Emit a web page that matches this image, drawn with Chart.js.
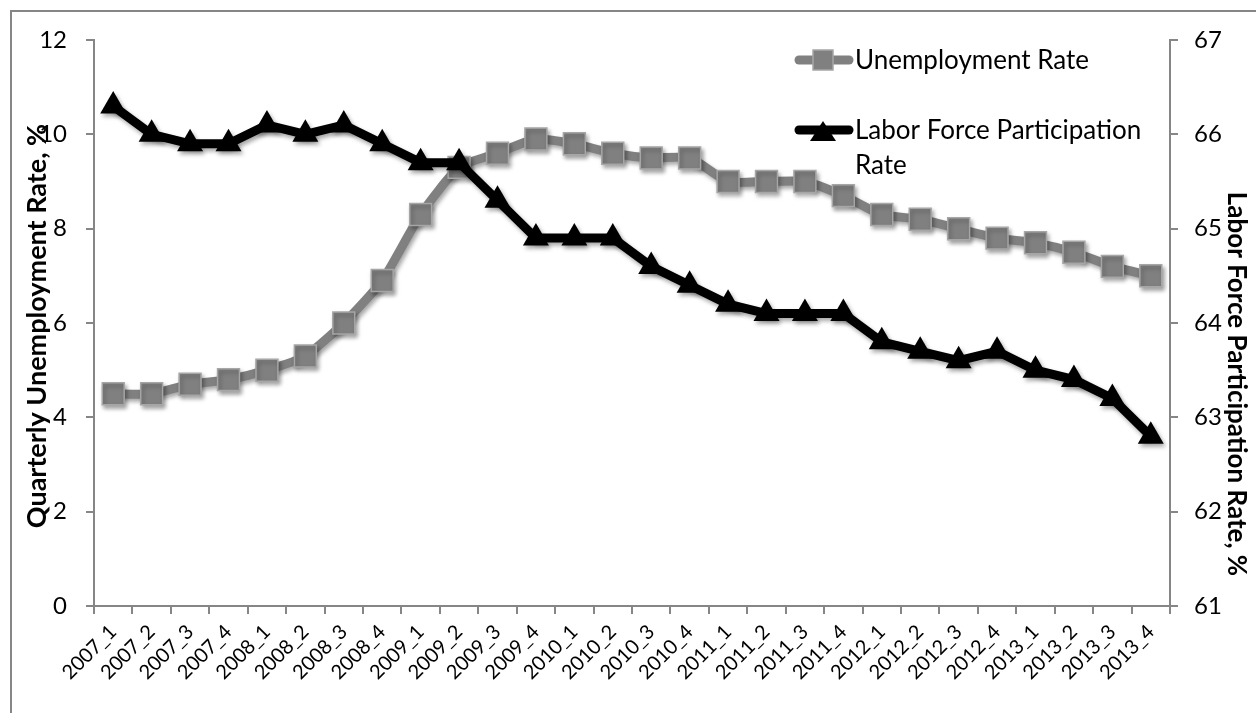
<!DOCTYPE html>
<html lang="en">
<head>
<meta charset="UTF-8">
<title>Unemployment and Labor Force Participation</title>
<script src="https://cdn.jsdelivr.net/npm/chart.js@4.4.0/dist/chart.umd.min.js"></script>
<style>
  body { margin: 0; background: #fff; }
  canvas { display: block; }
</style>
</head>
<body>
<canvas id="lineChart" width="1256" height="713"></canvas>
<script>
// data
var quarters = ['2007_1','2007_2','2007_3','2007_4','2008_1','2008_2','2008_3','2008_4',
  '2009_1','2009_2','2009_3','2009_4','2010_1','2010_2','2010_3','2010_4',
  '2011_1','2011_2','2011_3','2011_4','2012_1','2012_2','2012_3','2012_4',
  '2013_1','2013_2','2013_3','2013_4'];
var unemploymentRate = [4.5, 4.5, 4.7, 4.8, 5.0, 5.3, 6.0, 6.9,
  8.3, 9.3, 9.6, 9.9, 9.8, 9.6, 9.5, 9.5,
  9.0, 9.0, 9.0, 8.7, 8.3, 8.2, 8.0, 7.8,
  7.7, 7.5, 7.2, 7.0];
var participationRate = [66.3, 66.0, 65.9, 65.9, 66.1, 66.0, 66.1, 65.9,
  65.7, 65.7, 65.3, 64.9, 64.9, 64.9, 64.6, 64.4,
  64.2, 64.1, 64.1, 64.1, 63.8, 63.7, 63.6, 63.7,
  63.5, 63.4, 63.2, 62.8];
var leftTicks = [0, 2, 4, 6, 8, 10, 12];
var rightTicks = [61, 62, 63, 64, 65, 66, 67];

var FONT = 'Lato, "Open Sans", sans-serif';
var GRAY = '#808080';
var AXIS = '#868686';

// frame, titles and legend drawn by hand like the excel original
var decorPlugin = {
  id: 'decor',
  beforeDraw: function (chart) {
    var c = chart.ctx;
    c.save();
    c.strokeStyle = AXIS;
    c.lineWidth = 2;
    c.beginPath();
    c.moveTo(11, 713);
    c.lineTo(11, 11);
    c.lineTo(1256, 11);
    c.stroke();
    c.restore();
  },
  afterDraw: function (chart) {
    var c = chart.ctx;
    c.save();
    c.fillStyle = '#000';
    c.font = 'bold 27px ' + FONT;
    c.textAlign = 'center';
    c.textBaseline = 'middle';
    c.translate(37, 326);
    c.rotate(-Math.PI / 2);
    c.fillText('Quarterly Unemployment Rate, %', 0, 0);
    c.restore();

    c.save();
    c.fillStyle = '#000';
    c.font = 'bold 26px ' + FONT;
    c.textAlign = 'center';
    c.textBaseline = 'middle';
    c.translate(1236, 384);
    c.rotate(Math.PI / 2);
    c.fillText('Labor Force Participation Rate, %', 0, 0);
    c.restore();

    // legend
    c.save();
    c.lineCap = 'round';
    c.lineWidth = 9;
    c.strokeStyle = GRAY;
    c.beginPath(); c.moveTo(799, 60); c.lineTo(849, 60); c.stroke();
    c.fillStyle = GRAY;
    c.strokeStyle = '#a6a6a6';
    c.lineWidth = 1.5;
    c.fillRect(813, 50, 20, 20);
    c.strokeRect(813, 50, 20, 20);
    c.lineWidth = 9;
    c.strokeStyle = '#000';
    c.beginPath(); c.moveTo(799, 130); c.lineTo(849, 130); c.stroke();
    c.fillStyle = '#000';
    c.beginPath(); c.moveTo(823, 121); c.lineTo(836, 141); c.lineTo(810, 141); c.closePath(); c.fill();
    c.font = '26px ' + FONT;
    c.textAlign = 'left';
    c.textBaseline = 'middle';
    c.fillText('Unemployment Rate', 855, 61);
    c.fillText('Labor Force Participation', 855, 131);
    c.fillText('Rate', 855, 166);
    c.restore();
  }
};

var shadowPlugin = {
  id: 'shadow',
  beforeDatasetsDraw: function (chart) {
    var c = chart.ctx;
    c.save();
    c.shadowColor = 'rgba(0,0,0,0.35)';
    c.shadowBlur = 4;
    c.shadowOffsetX = 2;
    c.shadowOffsetY = 3;
  },
  afterDatasetsDraw: function (chart) {
    chart.ctx.restore();
  }
};

var ctx = document.getElementById('lineChart').getContext('2d');
var myChart = new Chart(ctx, {
  type: 'line',
  data: {
    labels: quarters,
    datasets: [
      {
        label: 'Labor Force Participation Rate',
        data: participationRate,
        yAxisID: 'y2',
        order: 0,
        borderColor: '#000',
        backgroundColor: '#000',
        borderWidth: 9,
        tension: 0,
        pointStyle: 'triangle',
        pointRadius: 15,
        pointBorderWidth: 0,
        pointBackgroundColor: '#000',
        clip: false
      },
      {
        label: 'Unemployment Rate',
        data: unemploymentRate,
        yAxisID: 'y',
        order: 1,
        borderColor: GRAY,
        backgroundColor: GRAY,
        borderWidth: 9,
        tension: 0.2,
        pointStyle: 'rect',
        pointRadius: 15.5,
        pointBorderWidth: 1.5,
        pointBorderColor: '#a6a6a6',
        pointBackgroundColor: GRAY,
        clip: false
      }
    ]
  },
  options: {
    responsive: false,
    animation: false,
    devicePixelRatio: 1,
    layout: { padding: { top: 40, left: 0, right: 0, bottom: 0 } },
    plugins: {
      legend: { display: false },
      tooltip: { enabled: false }
    },
    scales: {
      x: {
        offset: true,
        grid: { offset: true, drawOnChartArea: false, tickLength: 8, color: AXIS, lineWidth: 2 },
        border: { color: AXIS, width: 2 },
        ticks: { autoSkip: false, maxRotation: 45, minRotation: 45, color: '#000', padding: 6,
          font: { family: FONT, size: 20 } },
        afterFit: function (s) { s.height = 107; }
      },
      y: {
        position: 'left',
        min: 0,
        max: 12,
        afterBuildTicks: function (s) { s.ticks = leftTicks.map(function (v) { return { value: v }; }); },
        grid: { drawOnChartArea: false, tickLength: 8, color: AXIS, lineWidth: 2 },
        border: { color: AXIS, width: 2 },
        ticks: { color: '#000', padding: 19, font: { family: FONT, size: 24 } },
        afterFit: function (s) { s.width = 94; }
      },
      y2: {
        position: 'right',
        min: 61,
        max: 67,
        afterBuildTicks: function (s) { s.ticks = rightTicks.map(function (v) { return { value: v }; }); },
        grid: { drawOnChartArea: false, tickLength: 8, color: AXIS, lineWidth: 2 },
        border: { color: AXIS, width: 2 },
        ticks: { color: '#000', padding: 16, font: { family: FONT, size: 24 } },
        afterFit: function (s) { s.width = 86; }
      }
    }
  },
  plugins: [decorPlugin, shadowPlugin]
});
</script>
</body>
</html>
